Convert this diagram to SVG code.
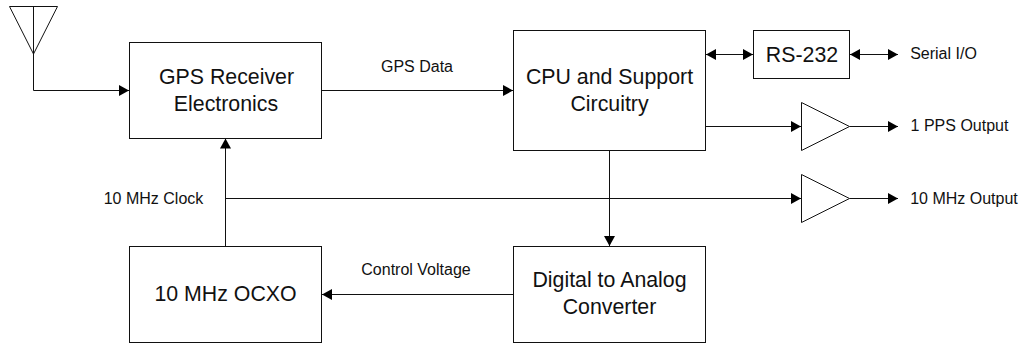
<svg xmlns="http://www.w3.org/2000/svg" width="1023" height="343" viewBox="0 0 1023 343">
<style>
text{font-family:"Liberation Sans",Arial,sans-serif;fill:#111;text-anchor:middle}
.big{font-size:21.33px}
.small{font-size:16px}
.box{fill:#fff;stroke:#111;stroke-width:1}
.wire{fill:none;stroke:#111;stroke-width:1}
.hd{fill:#000}
</style>
<defs>
<marker id="a" markerUnits="userSpaceOnUse" markerWidth="11" markerHeight="12" refX="10" refY="6" orient="auto"><path class="hd" d="M0,0.5L10,6L0,11.5Z"/></marker>
<marker id="b" markerUnits="userSpaceOnUse" markerWidth="11" markerHeight="12" refX="0" refY="6" orient="auto"><path class="hd" d="M10,0.5L0,6L10,11.5Z"/></marker>
</defs>
<g id="connectors">
<path class="wire" d="M33.5,54V90.5H129" marker-end="url(#a)"/>
<path class="wire" d="M321.5,90.5H513" marker-end="url(#a)"/>
<path class="wire" d="M225.5,246V138.5" marker-end="url(#a)"/>
<path class="wire" d="M225.5,198.5H801" marker-end="url(#a)"/>
<path class="wire" d="M609.5,150.5V246" marker-end="url(#a)"/>
<path class="wire" d="M513.5,294.5H322" marker-end="url(#a)"/>
<path class="wire" d="M706,54.5H753" marker-start="url(#b)" marker-end="url(#a)"/>
<path class="wire" d="M850,54.5H898" marker-start="url(#b)" marker-end="url(#a)"/>
<path class="wire" d="M705.5,126.5H801" marker-end="url(#a)"/>
<path class="wire" d="M849.5,126.5H898" marker-end="url(#a)"/>
<path class="wire" d="M849.5,198.5H898" marker-end="url(#a)"/>
</g>
<g id="antenna"><path class="wire" d="M9.5,6.5H57.5L33.5,54ZM33.5,6.5V54"/></g>
<g id="gps"><rect class="box" x="129.5" y="42.5" width="192" height="96"/><text class="big" x="226.5" y="84">GPS Receiver</text><text class="big" x="226" y="110.5">Electronics</text></g>
<g id="cpu"><rect class="box" x="513.5" y="30.5" width="192" height="120"/><text class="big" x="609.5" y="84">CPU and Support</text><text class="big" x="609.5" y="110.5">Circuitry</text></g>
<g id="rs232"><rect class="box" x="753.5" y="30.5" width="96" height="48"/><text class="big" x="802" y="61.5">RS-232</text></g>
<g id="ocxo"><rect class="box" x="129.5" y="246.5" width="192" height="96"/><text class="big" x="225.5" y="300.5">10 MHz OCXO</text></g>
<g id="dac"><rect class="box" x="513.5" y="246.5" width="192" height="96"/><text class="big" x="609.5" y="287">Digital to Analog</text><text class="big" x="609.5" y="314">Converter</text></g>
<g id="amp1"><path class="box" d="M801.5,102.5L849.5,126.5L801.5,150.5Z"/></g>
<g id="amp2"><path class="box" d="M801.5,174.5L849.5,198.5L801.5,222.5Z"/></g>
<g id="labels">
<text class="small" x="417" y="72">GPS Data</text>
<text class="small" x="416" y="275">Control Voltage</text>
<text class="small" x="153.5" y="204">10 MHz Clock</text>
<text class="small" x="943.5" y="59">Serial I/O</text>
<text class="small" x="959.5" y="131">1 PPS Output</text>
<text class="small" x="964" y="203.5">10 MHz Output</text>
</g>
</svg>
